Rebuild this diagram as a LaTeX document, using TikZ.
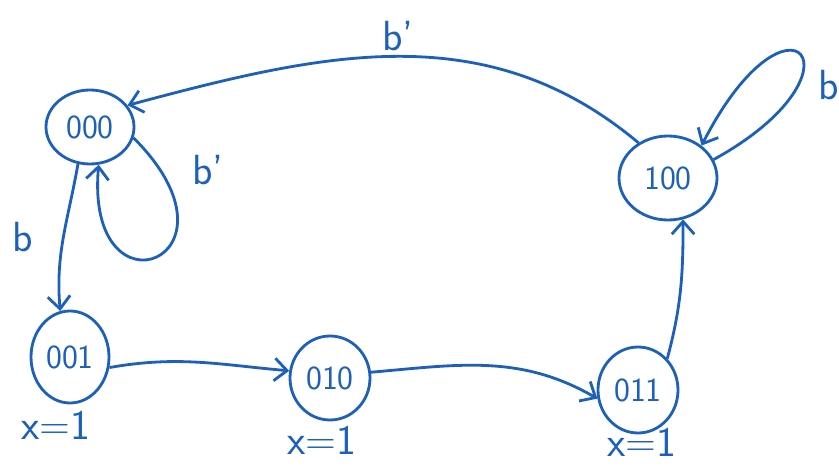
\documentclass[tikz,border=0pt]{standalone}
\usepackage{tikz}
\usetikzlibrary{positioning,shapes.geometric,arrows.meta}
\definecolor{inkblue}{RGB}{28,96,186}

\begin{document}
\begin{tikzpicture}[->,>={Straight Barb[length=9pt,width=16pt]},line width=2pt,inkblue,on grid,
      state/.style={ellipse,draw,inner sep=0pt,font=\sffamily\fontsize{24}{26}\selectfont},
      lbl/.style={font=\sffamily\fontsize{30}{32}\selectfont}]
      \useasboundingbox (0,0) rectangle (20.975,-11.725);
      \node[state,minimum width=2.2cm,minimum height=1.85cm] (s000) at (2.25,-3.175) {000};
      \node[state,minimum width=1.95cm,minimum height=2.3cm] (s001) [below left=5.75cm and 0.5cm of s000] {001};
      \node[state,minimum width=2.0cm,minimum height=2.1cm] (s010) [below right=0.525cm and 6.5cm of s001] {010};
      \node[state,minimum width=2.0cm,minimum height=2.15cm] (s011) [below right=0.3cm and 7.7cm of s010] {011};
      \node[state,minimum width=2.45cm,minimum height=2.1cm] (s100) [above right=5.3cm and 0.75cm of s011] {100};

      % outputs
      \node[lbl] (x001) [below left=1.7cm and 0.35cm of s001] {x=1};
      \node[lbl] (x010) [below left=1.55cm and 0.2cm of s010] {x=1};
      \node[lbl] (x011) [below right=1.3cm and 0.1cm of s011] {x=1};

      \path[->]
        (s100.130) edge [out=140,in=15] node [lbl,above,pos=0.5] {b'} (s000.30)
        (s000.-108) edge [out=-100,in=95] node [lbl,left=0.6cm] {b} (s001.102)
        (s001.-15) edge [out=10,in=175] (s010.170)
        (s010.8) edge [out=5,in=150] (s011.192)
        (s011.47) edge [out=75,in=-90] (s100.-70);

      % self loops
      \draw (s000.-14) .. controls +(-45:4.3) and +(-95:4.0) .. (s000.-77);
      \node[lbl] (l000) [below right=1.08cm and 2.95cm of s000] {b'};
      \draw (s100.22) .. controls +(4.0,2.2) and +(2.2,4.3) .. node [lbl,pos=0.3,right=0.35cm] {b} (s100.44);
    \end{tikzpicture}
\end{document}
